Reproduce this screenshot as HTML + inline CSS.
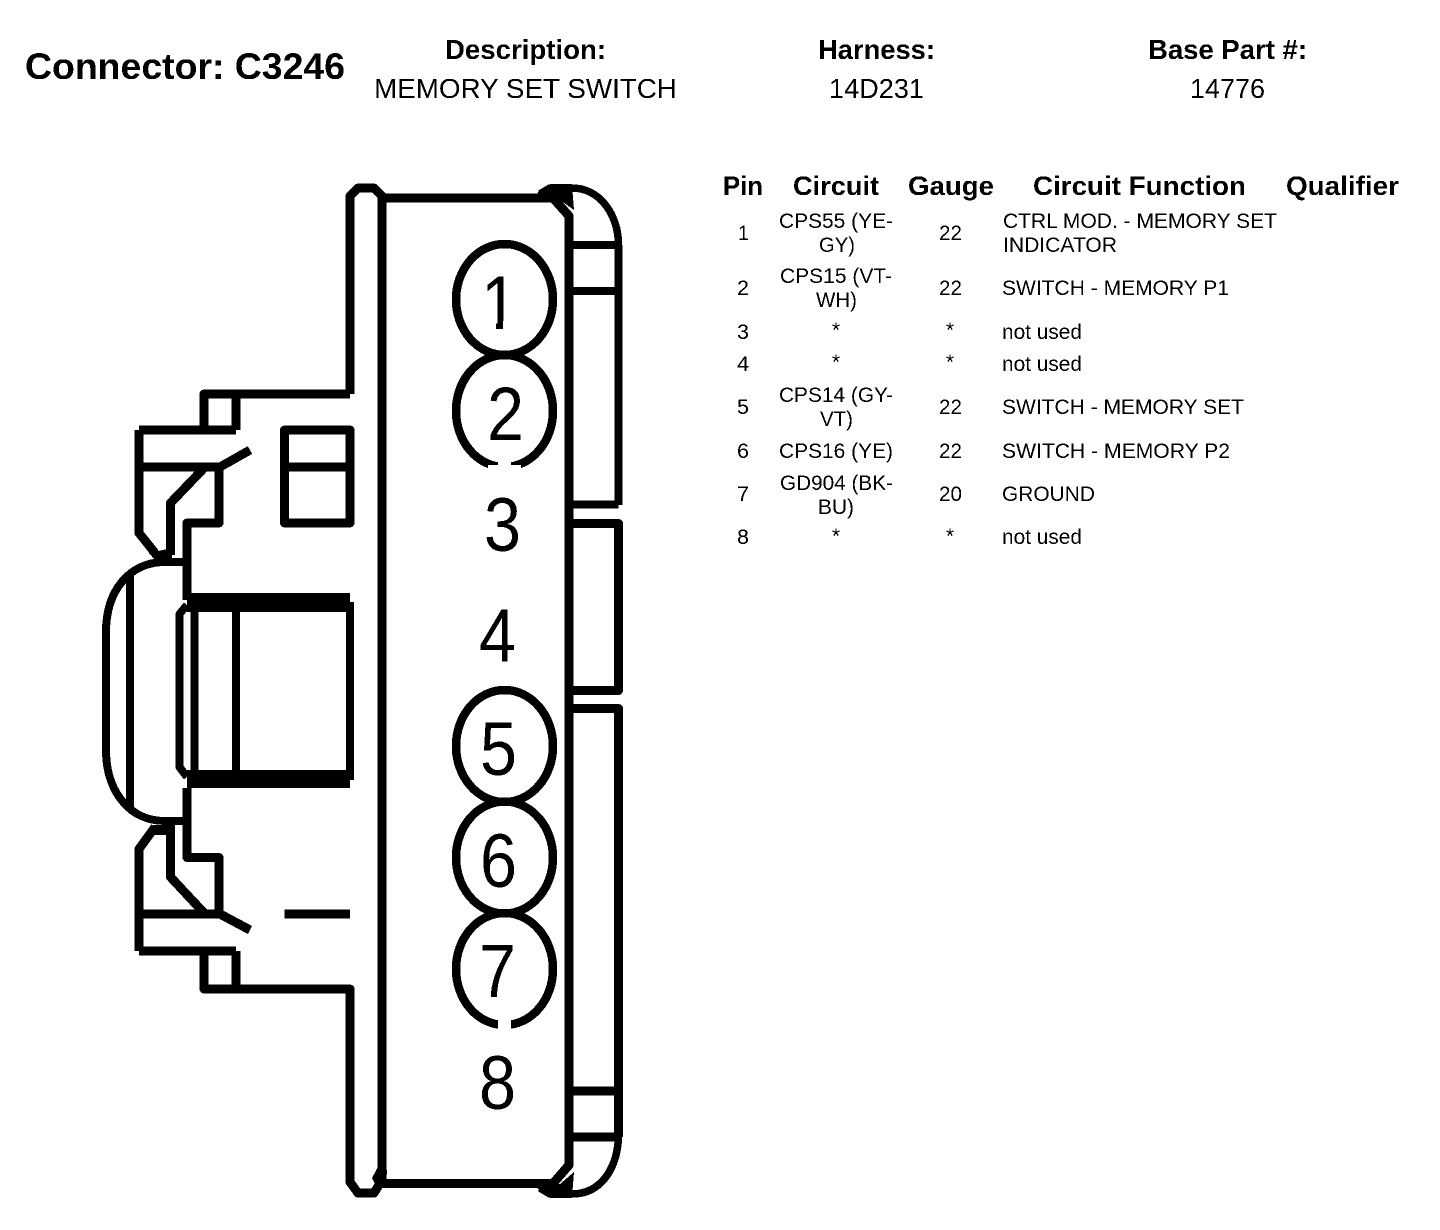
<!DOCTYPE html>
<html><head><meta charset="utf-8"><title>Connector C3246</title>
<style>html,body{margin:0;padding:0;background:#fff}svg{display:block}
text{font-family:"Liberation Sans",Arial,sans-serif;fill:#000}
.h{font-weight:bold;font-size:27px}.b{font-size:27.5px}.bh{font-weight:bold;font-size:27.5px}.n{font-size:76px}
.s{fill:none;stroke:#000;stroke-width:9;stroke-linejoin:round}</style></head>
<body>
<svg xmlns="http://www.w3.org/2000/svg" width="1440" height="1230" viewBox="0 0 1440 1230">
<defs><filter id="bw" x="0" y="0" width="100%" height="100%" color-interpolation-filters="sRGB"><feComponentTransfer><feFuncR type="discrete" tableValues="0 1"/><feFuncG type="discrete" tableValues="0 1"/><feFuncB type="discrete" tableValues="0 1"/></feComponentTransfer></filter></defs>
<g filter="url(#bw)">
<rect width="1440" height="1230" fill="#fff"/>
<text x="25" y="79" style="font-weight:bold;font-size:37px" textLength="320" lengthAdjust="spacingAndGlyphs">Connector: C3246</text>
<text class="bh" x="445" y="59" textLength="161" lengthAdjust="spacingAndGlyphs">Description:</text>
<text class="b" x="374" y="98" textLength="303" lengthAdjust="spacingAndGlyphs">MEMORY SET SWITCH</text>
<text class="bh" x="818" y="59" textLength="117" lengthAdjust="spacingAndGlyphs">Harness:</text>
<text class="b" x="829" y="98" textLength="95" lengthAdjust="spacingAndGlyphs">14D231</text>
<text class="bh" x="1148" y="59" textLength="159" lengthAdjust="spacingAndGlyphs">Base Part #:</text>
<text class="b" x="1190" y="98" textLength="75" lengthAdjust="spacingAndGlyphs">14776</text>

<text class="h" x="723" y="195" textLength="40" lengthAdjust="spacingAndGlyphs">Pin</text>
<text class="h" x="793" y="195" textLength="86" lengthAdjust="spacingAndGlyphs">Circuit</text>
<text class="h" x="908" y="195" textLength="86" lengthAdjust="spacingAndGlyphs">Gauge</text>
<text class="h" x="1033" y="195" textLength="213" lengthAdjust="spacingAndGlyphs">Circuit Function</text>
<text class="h" x="1286" y="195" textLength="113" lengthAdjust="spacingAndGlyphs">Qualifier</text>

<g style="font-size:21px">
<text x="738" y="240" textLength="11" lengthAdjust="spacingAndGlyphs">1</text>
<text x="737" y="295" textLength="12" lengthAdjust="spacingAndGlyphs">2</text>
<text x="737" y="339" textLength="12" lengthAdjust="spacingAndGlyphs">3</text>
<text x="737" y="371" textLength="12" lengthAdjust="spacingAndGlyphs">4</text>
<text x="737" y="414" textLength="12" lengthAdjust="spacingAndGlyphs">5</text>
<text x="737" y="458" textLength="12" lengthAdjust="spacingAndGlyphs">6</text>
<text x="737" y="501" textLength="12" lengthAdjust="spacingAndGlyphs">7</text>
<text x="737" y="544" textLength="12" lengthAdjust="spacingAndGlyphs">8</text>

<text x="779" y="228" textLength="114" lengthAdjust="spacingAndGlyphs">CPS55 (YE-</text>
<text x="819" y="252" textLength="36" lengthAdjust="spacingAndGlyphs">GY)</text>
<text x="780" y="283" textLength="112" lengthAdjust="spacingAndGlyphs">CPS15 (VT-</text>
<text x="816" y="307" textLength="41" lengthAdjust="spacingAndGlyphs">WH)</text>
<text x="832" y="337" textLength="8" lengthAdjust="spacingAndGlyphs">*</text>
<text x="832" y="369" textLength="8" lengthAdjust="spacingAndGlyphs">*</text>
<text x="779" y="402" textLength="114" lengthAdjust="spacingAndGlyphs">CPS14 (GY-</text>
<text x="820" y="426" textLength="33" lengthAdjust="spacingAndGlyphs">VT)</text>
<text x="779" y="458" textLength="114" lengthAdjust="spacingAndGlyphs">CPS16 (YE)</text>
<text x="780" y="490" textLength="113" lengthAdjust="spacingAndGlyphs">GD904 (BK-</text>
<text x="818" y="514" textLength="36" lengthAdjust="spacingAndGlyphs">BU)</text>
<text x="832" y="543" textLength="8" lengthAdjust="spacingAndGlyphs">*</text>

<text x="939" y="240" textLength="23" lengthAdjust="spacingAndGlyphs">22</text>
<text x="939" y="295" textLength="23" lengthAdjust="spacingAndGlyphs">22</text>
<text x="946" y="337" textLength="8" lengthAdjust="spacingAndGlyphs">*</text>
<text x="946" y="369" textLength="8" lengthAdjust="spacingAndGlyphs">*</text>
<text x="939" y="414" textLength="23" lengthAdjust="spacingAndGlyphs">22</text>
<text x="939" y="458" textLength="23" lengthAdjust="spacingAndGlyphs">22</text>
<text x="939" y="501" textLength="23" lengthAdjust="spacingAndGlyphs">20</text>
<text x="946" y="543" textLength="8" lengthAdjust="spacingAndGlyphs">*</text>

<text x="1003" y="228" textLength="274" lengthAdjust="spacingAndGlyphs">CTRL MOD. - MEMORY SET</text>
<text x="1003" y="252" textLength="114" lengthAdjust="spacingAndGlyphs">INDICATOR</text>
<text x="1002" y="295" textLength="227" lengthAdjust="spacingAndGlyphs">SWITCH - MEMORY P1</text>
<text x="1002" y="339" textLength="80" lengthAdjust="spacingAndGlyphs">not used</text>
<text x="1002" y="371" textLength="80" lengthAdjust="spacingAndGlyphs">not used</text>
<text x="1002" y="414" textLength="242" lengthAdjust="spacingAndGlyphs">SWITCH - MEMORY SET</text>
<text x="1002" y="458" textLength="228" lengthAdjust="spacingAndGlyphs">SWITCH - MEMORY P2</text>
<text x="1002" y="501" textLength="93" lengthAdjust="spacingAndGlyphs">GROUND</text>
<text x="1002" y="544" textLength="80" lengthAdjust="spacingAndGlyphs">not used</text>
</g>

<!-- connector -->
<path class="s" d="M350 394 V196 L358 188 H374 L382 196 V1180 L374 1193 H358 L350 1182 V989 H204 V951 M236 989 V951 M139 951 H236 M139 951 V849 L155 827 M139 914 H220 L250 930 M219 914 V857.5 H187 V788 M170.5 825 V877 L205 914"/>
<path class="s" d="M350 394 H204 V430 M236 394 V430 M139 430 H236 M139 430 V533 L155 553 M139 467 H220 L250 450 M219 467 V523 H187 V600 M170.5 555 V503 L205 467"/>
<!-- main body -->
<path class="s" d="M382 198 H553 L569 216 V1165 L553 1183.5 H382"/>
<path class="s" style="stroke-width:7.5" d="M540 194 L550 188 H572 C600 188 618.5 215 618.5 245 V505 M569 245 H618.5 M569 291 H618.5 M569 504.5 H618.5"/>
<path class="s" d="M569 523.5 H618.5 V690.5 H569 M569 708.5 H618.5 V1137 M569 1091 H618.5 M569 1137 H618.5"/>
<path class="s" style="stroke-width:7.5" d="M618.5 1137 C617 1170 600 1194 572 1194 H550 L540 1188"/>
<polygon points="537,193 548,185 572,185 574,210 560,200" fill="#000"/>
<polygon points="537,1188 548,1197 572,1197 574,1172 560,1184" fill="#000"/>
<path d="M372 1178 L379 1165 L387 1170 L386 1188 L376 1186 Z" fill="#000"/>
<polygon points="149,553 172,548 172,558 155,560" fill="#000"/>
<polygon points="153,825 172,825 172,835 155,835" fill="#000"/>
<!-- rect window -->
<path class="s" d="M284.5 430 H350 V523 H284.5 Z M284.5 467 H350 M284.5 914 H350"/>
<!-- bulge -->
<path class="s" style="stroke-width:8" d="M187 562 H165 C130 562 106 590 106 632 V750 C106 792 130 821 165 821 H187"/>
<path class="s" style="stroke-width:8" d="M130 573 V810 M187 605 L179.5 614 V767 L187 777"/>
<path class="s" style="stroke-width:8" d="M194.5 602 V780 M236 602 V780 M350 602 V780"/>
<rect x="187" y="593" width="163" height="19" fill="#000"/>
<rect x="187" y="770" width="163" height="18" fill="#000"/>

<!-- pin circles -->
<g fill="none" stroke="#000" stroke-width="8.5">
<ellipse cx="504.5" cy="299.5" rx="48.5" ry="55.5"/>
<ellipse cx="504.5" cy="411" rx="48.5" ry="56"/>
<ellipse cx="504.5" cy="746" rx="48.5" ry="56"/>
<ellipse cx="504.5" cy="857.5" rx="48.5" ry="56"/>
<ellipse cx="504.5" cy="969" rx="48.5" ry="56"/>
</g>
<rect x="498" y="460" width="13" height="12" fill="#fff"/>
<rect x="488" y="465" width="33" height="8" fill="#fff"/>
<rect x="498" y="1017" width="13" height="14" fill="#fff"/>

<text class="n" x="481" y="329" textLength="37" lengthAdjust="spacingAndGlyphs">1</text>
<rect x="476" y="321" width="20" height="11" fill="#fff"/>
<rect x="503" y="321" width="21" height="11" fill="#fff"/>
<text class="n" x="487" y="440" textLength="37" lengthAdjust="spacingAndGlyphs">2</text>
<text class="n" x="484" y="551" textLength="37" lengthAdjust="spacingAndGlyphs">3</text>
<text class="n" x="479" y="662" textLength="37" lengthAdjust="spacingAndGlyphs">4</text>
<text class="n" x="480" y="775" textLength="37" lengthAdjust="spacingAndGlyphs">5</text>
<text class="n" x="480" y="887" textLength="37" lengthAdjust="spacingAndGlyphs">6</text>
<text class="n" x="479" y="997" textLength="37" lengthAdjust="spacingAndGlyphs">7</text>
<text class="n" x="479" y="1109" textLength="37" lengthAdjust="spacingAndGlyphs">8</text>
</g>
</svg>
</body></html>
